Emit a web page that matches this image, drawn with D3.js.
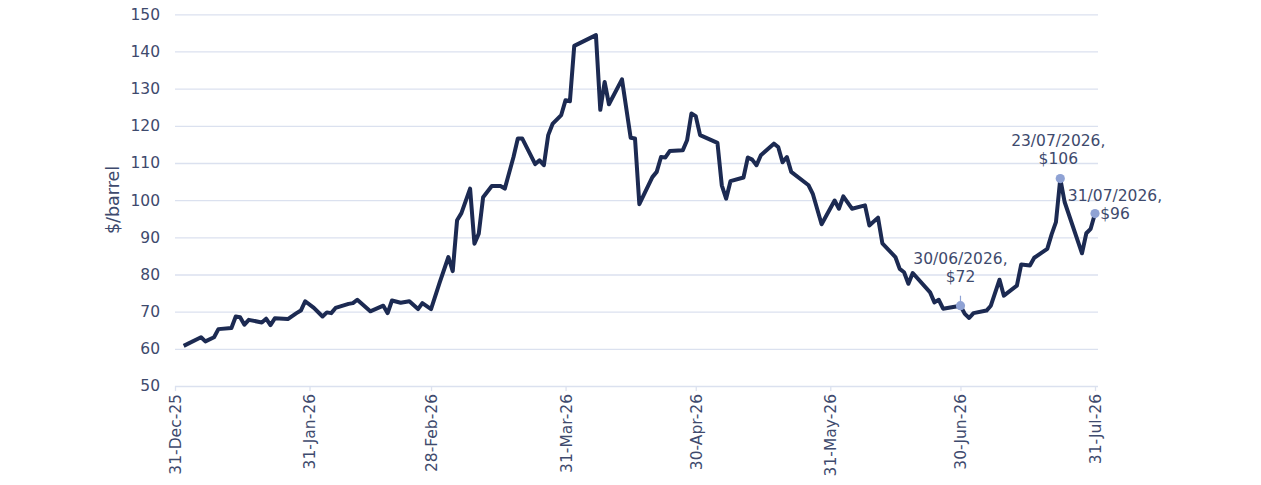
<!DOCTYPE html>
<html>
<head>
<meta charset="utf-8">
<script src="https://cdn.jsdelivr.net/npm/d3@7"></script>
<style>
  body { margin: 0; background: #fff; }
  svg text { font-family: "DejaVu Sans", sans-serif; fill: #3e4a6d; }
</style>
</head>
<body>
<svg id="chart" width="1261" height="485"></svg>
<script>
// price series
const priceDates = [
  "2026-01-02","2026-01-06","2026-01-07","2026-01-09","2026-01-10","2026-01-13","2026-01-14","2026-01-15",
  "2026-01-16","2026-01-17","2026-01-20","2026-01-21","2026-01-22","2026-01-23","2026-01-26","2026-01-28",
  "2026-01-29","2026-01-30","2026-02-01","2026-02-03","2026-02-04","2026-02-05","2026-02-06","2026-02-09",
  "2026-02-10","2026-02-11","2026-02-14","2026-02-17","2026-02-18","2026-02-19","2026-02-21","2026-02-23",
  "2026-02-25","2026-02-26","2026-02-28","2026-03-02","2026-03-04","2026-03-05","2026-03-06","2026-03-07",
  "2026-03-09","2026-03-10","2026-03-11","2026-03-12","2026-03-14","2026-03-16","2026-03-17","2026-03-19",
  "2026-03-20","2026-03-21","2026-03-24","2026-03-25","2026-03-26","2026-03-27","2026-03-28","2026-03-30",
  "2026-03-31","2026-04-01","2026-04-02","2026-04-07","2026-04-08","2026-04-09","2026-04-10","2026-04-13",
  "2026-04-15","2026-04-16","2026-04-17","2026-04-20","2026-04-21","2026-04-22","2026-04-23","2026-04-24",
  "2026-04-27","2026-04-28","2026-04-29","2026-04-30","2026-05-01","2026-05-05","2026-05-06","2026-05-07",
  "2026-05-08","2026-05-11","2026-05-12","2026-05-13","2026-05-14","2026-05-15","2026-05-18","2026-05-19",
  "2026-05-20","2026-05-21","2026-05-22","2026-05-26","2026-05-27","2026-05-29","2026-06-01","2026-06-02",
  "2026-06-03","2026-06-05","2026-06-08","2026-06-09","2026-06-11","2026-06-12","2026-06-15","2026-06-16",
  "2026-06-17","2026-06-18","2026-06-19","2026-06-23","2026-06-24","2026-06-25","2026-06-26","2026-06-30",
  "2026-07-01","2026-07-02","2026-07-03","2026-07-06","2026-07-07","2026-07-09","2026-07-10","2026-07-13",
  "2026-07-14","2026-07-16","2026-07-17","2026-07-20","2026-07-21","2026-07-22","2026-07-23","2026-07-24",
  "2026-07-28","2026-07-29","2026-07-30","2026-07-31"
];
const priceValues = [
  60.8, 63.1, 62.0, 63.1, 65.3, 65.6, 68.7, 68.5,
  66.5, 67.8, 67.1, 68.1, 66.4, 68.2, 68.0, 69.6,
  70.3, 72.8, 71.0, 68.7, 69.8, 69.6, 71.0, 72.1,
  72.3, 73.2, 70.1, 71.6, 69.6, 73.0, 72.4, 72.8,
  70.7, 72.3, 70.7, 77.9, 84.7, 80.9, 94.6, 96.5,
  103.1, 88.3, 91.0, 100.8, 103.8, 103.8, 103.1, 111.6,
  116.6, 116.6, 109.7, 110.7, 109.4, 117.5, 120.5, 122.9,
  126.9, 126.6, 141.5, 144.4, 124.3, 131.8, 125.8, 132.5,
  116.8, 116.6, 98.9, 106.2, 107.6, 111.6, 111.5, 113.2,
  113.4, 116.1, 123.3, 122.6, 117.5, 115.4, 104.0, 100.4,
  105.1, 106.1, 111.5, 110.9, 109.4, 112.1, 115.2, 114.3,
  110.2, 111.6, 107.6, 104.0, 101.6, 93.5, 99.9, 97.7,
  101.0, 97.7, 98.6, 93.2, 95.3, 88.4, 84.7, 81.5,
  80.6, 77.5, 80.4, 75.2, 72.5, 73.2, 70.8, 71.6,
  69.4, 68.3, 69.6, 70.3, 71.6, 78.6, 74.3, 77.0,
  82.7, 82.4, 84.5, 86.9, 90.8, 94.1, 105.8, 99.5,
  85.7, 91.1, 92.3, 96.4
];

const xTickDates = ["2025-12-31","2026-01-31","2026-02-28","2026-03-31","2026-04-30","2026-05-31","2026-06-30","2026-07-31"];
const yTickValues = [50, 60, 70, 80, 90, 100, 110, 120, 130, 140, 150];

const annoDates = ["2026-06-30", "2026-07-23", "2026-07-31"];
const annoLines = [["30/06/2026,", "$72"], ["23/07/2026,", "$106"], ["31/07/2026,", "$96"]];

const parse = d3.timeParse("%Y-%m-%d");
const series = priceDates.map((d, i) => ({ date: parse(d), value: priceValues[i] }));

const svg = d3.select("#chart");
const plotLeft = 175, plotRight = 1095, gridRight = 1098, plotTop = 14.3, plotBottom = 386;

const x = d3.scaleTime()
  .domain([parse(xTickDates[0]), parse(xTickDates[xTickDates.length - 1])])
  .range([plotLeft, plotRight]);
const y = d3.scaleLinear().domain([50, 150]).range([plotBottom, plotTop]);

// horizontal gridlines + y labels
const yAxis = svg.append("g")
  .attr("transform", `translate(${plotLeft},0)`)
  .call(d3.axisLeft(y).tickValues(yTickValues).tickSize(-(gridRight - plotLeft)).tickPadding(15));
yAxis.select(".domain").remove();
yAxis.selectAll(".tick line").attr("stroke", "#dbe1ef").attr("stroke-width", 1.3);
yAxis.selectAll(".tick text").style("font-size", "15.5px");

// x axis
const xAxis = svg.append("g")
  .attr("transform", `translate(0,${plotBottom})`)
  .call(d3.axisBottom(x)
    .tickValues(xTickDates.map(parse))
    .tickFormat(d3.timeFormat("%d-%b-%y"))
    .tickSize(5)
    .tickPadding(6));
xAxis.select(".domain").remove();
xAxis.selectAll(".tick line").attr("stroke", "#dbe1ef").attr("stroke-width", 1.3);
xAxis.selectAll(".tick text")
  .style("font-size", "15.5px")
  .attr("text-anchor", "end")
  .attr("transform", "rotate(-90)")
  .attr("x", -8)
  .attr("y", 0)
  .attr("dy", "0.35em");

// y title
svg.append("text")
  .attr("transform", "translate(119,200) rotate(-90)")
  .attr("text-anchor", "middle")
  .style("font-size", "17.5px")
  .text("$/barrel");

// price line
svg.append("path")
  .datum(series)
  .attr("fill", "none")
  .attr("stroke", "#1c2a52")
  .attr("stroke-width", 4)
  .attr("stroke-linejoin", "round")
  .attr("d", d3.line().x(d => x(d.date)).y(d => y(d.value)));

// annotations
const annoPlace = [{ dx: 0, dy: -42 }, { dx: -2, dy: -33 }, { dx: 20, dy: -13 }];
annoDates.forEach((d, i) => {
  const pt = series.find(s => +s.date === +parse(d));
  const px = x(pt.date), py = y(pt.value);
  if (i === 0) {
    svg.append("line")
      .attr("x1", px).attr("x2", px).attr("y1", py - 10).attr("y2", py)
      .attr("stroke", "#8fa2d4").attr("stroke-width", 1.2);
  }
  svg.append("circle")
    .attr("cx", px).attr("cy", py).attr("r", 4.6)
    .attr("fill", "#8fa2d4");
  const t = svg.append("text")
    .attr("text-anchor", "middle")
    .style("font-size", "15.5px");
  annoLines[i].forEach((ln, j) => {
    t.append("tspan")
      .attr("x", px + annoPlace[i].dx)
      .attr("y", py + annoPlace[i].dy + j * 18.5)
      .text(ln);
  });
});
</script>
</body>
</html>
